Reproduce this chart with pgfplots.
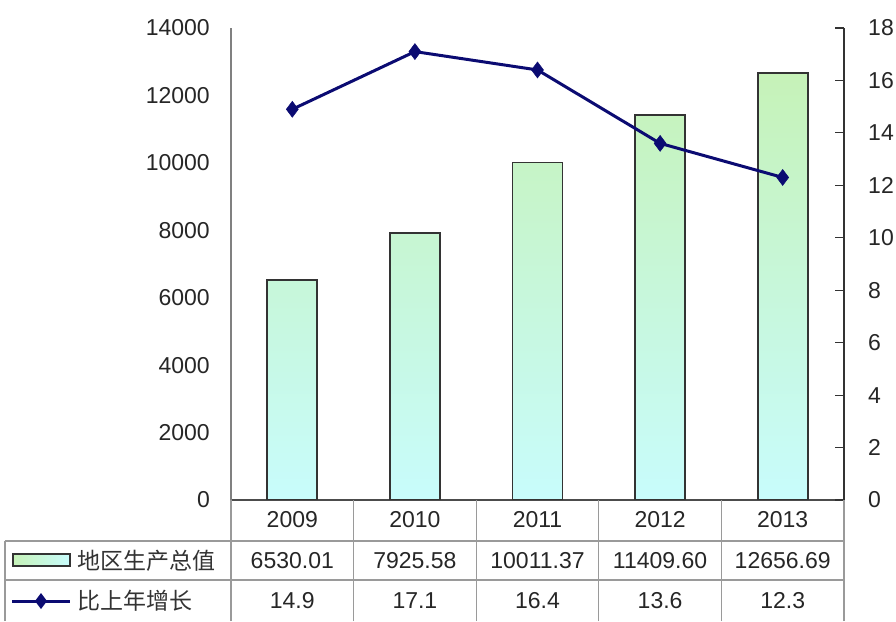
\documentclass[border=0pt]{standalone}
\usepackage{pgfplots}
\pgfplotsset{compat=1.18}
\usepackage{fontspec}
\setmainfont{Liberation Sans}
\newfontfamily\cjk{Noto Sans CJK SC}

\definecolor{barTop}{HTML}{C6F2B8}
\definecolor{barBot}{HTML}{C8FCFC}
\definecolor{navy}{HTML}{0B0B72}
\definecolor{gridgray}{HTML}{9A9A9A}

\begin{document}
\begin{tikzpicture}[x=1pt,y=1pt]
\useasboundingbox (0,0) rectangle (896,621);

% left axis: regional GDP bars
\begin{axis}[
    at={(231pt,121pt)}, anchor=south west,
    scale only axis, width=613pt, height=472pt,
    xmin=-0.5, xmax=4.5, ymin=0, ymax=14000,
    axis y line*=left, axis x line*=bottom,
    xtick=\empty,
    ytick={0,2000,...,14000},
    scaled y ticks=false,
    major tick length=0pt,
    y axis line style={draw=black!50, line width=1.5pt},
    x axis line style={draw=black!70, line width=2pt},
    /pgf/number format/1000 sep={},
    /pgf/number format/assume math mode=true,
    yticklabel style={font=\fontsize{23}{26}\selectfont, text=black!85, inner sep=0pt, anchor=east, xshift=-21pt},
]
\addplot[ybar, bar width=50pt, draw=black!80, line width=1.8pt,
    top color=barTop, bottom color=barBot]
    coordinates {(0,6530.01) (1,7925.58) (2,10011.37) (3,11409.60) (4,12656.69)};
\end{axis}

% right axis: growth rate line
\begin{axis}[
    at={(231pt,121pt)}, anchor=south west,
    scale only axis, width=613pt, height=472pt,
    xmin=-0.5, xmax=4.5, ymin=0, ymax=18,
    axis y line*=right, axis x line=none,
    ytick={0,2,...,18},
    tick align=inside, major tick length=9pt,
    tick style={draw=black!80, line width=1.2pt},
    y axis line style={draw=black!80, line width=1.5pt},
    /pgf/number format/assume math mode=true,
    yticklabel style={font=\fontsize{23}{26}\selectfont, text=black!85, inner sep=0pt, anchor=west, xshift=24pt},
]
\addplot[navy, line width=3pt, mark=diamond*, mark size=8pt, mark options={fill=navy, line width=0.5pt}]
    coordinates {(0,14.9) (1,17.1) (2,16.4) (3,13.6) (4,12.3)};
\end{axis}

% data table under the plot
\begin{scope}[draw=gridgray, line width=1.2pt]
  \draw (5,80) -- (844,80);
  \draw (5,41) -- (844,41);
  \draw (5,0) -- (5,80);
  \foreach \k in {0,...,5} \draw ({231+122.6*\k},0) -- ({231+122.6*\k},121);
\end{scope}

\begin{scope}[font=\fontsize{23}{26}\selectfont, text=black!85]
  \foreach \yr [count=\i from 0] in {2009,2010,2011,2012,2013}
    \node at ({292.3+122.6*\i},101) {\yr};
  \foreach \v [count=\i from 0] in {6530.01,7925.58,10011.37,11409.60,12656.69}
    \node at ({292.3+122.6*\i},60) {\v};
  \foreach \v [count=\i from 0] in {14.9,17.1,16.4,13.6,12.3}
    \node at ({292.3+122.6*\i},20) {\v};
\end{scope}

% legend keys in the table
\draw[black!80, line width=1.6pt, left color=barTop, right color=barBot] (13,55) rectangle (70,67);
\draw[navy, line width=3pt] (12,20) -- (70,20);
\fill[navy] (41,28) -- (47,20) -- (41,12) -- (35,20) -- cycle;
\node[anchor=west, inner sep=0pt, text=black!80] at (77,60) {\cjk\fontsize{23}{25}\selectfont 地区生产总值};
\node[anchor=west, inner sep=0pt, text=black!80] at (77,20) {\cjk\fontsize{23}{25}\selectfont 比上年增长};
\end{tikzpicture}
\end{document}
